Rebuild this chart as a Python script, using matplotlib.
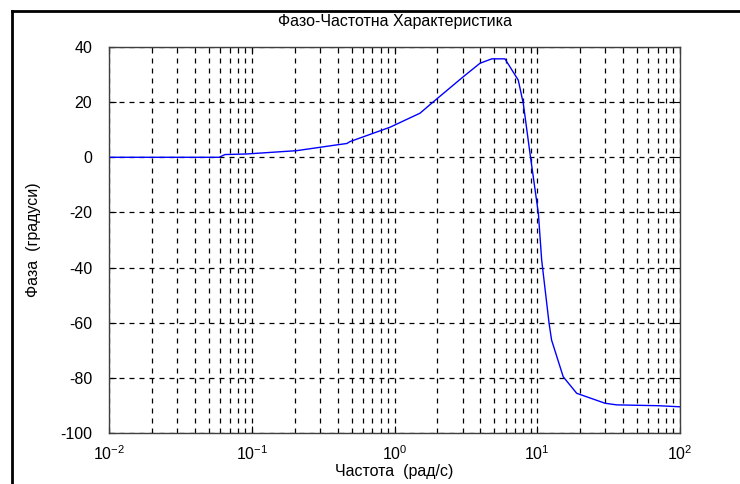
import matplotlib.pyplot as plt
from matplotlib.lines import Line2D
from matplotlib.ticker import LogLocator, FixedLocator

plt.rcParams['font.family'] = ['Liberation Sans', 'DejaVu Sans']
plt.rcParams['mathtext.fontset'] = 'custom'
plt.rcParams['mathtext.rm'] = 'Liberation Sans'
plt.rcParams['mathtext.it'] = 'Liberation Sans'
plt.rcParams['mathtext.default'] = 'regular'
plt.rcParams['axes.unicode_minus'] = False

# frequency response, phase part
freq = [0.01, 0.059, 0.065, 0.092, 0.206, 0.394, 0.464, 0.488, 0.93, 1.51,
        1.82, 3.03, 3.97, 4.8, 5.94, 7.36, 7.98, 8.89, 10.18, 10.74,
        12.1, 12.6, 15.2, 18.9, 29.8, 36.0, 70.5, 100.0]
phase = [0, 0, 1.0, 1.2, 2.4, 4.5, 5.0, 5.7, 10.9, 16.0,
         19.6, 29.2, 34.1, 35.7, 35.7, 28.0, 19.6, 1.5, -20.3, -37.3,
         -60.2, -66.3, -79.6, -85.6, -89.2, -89.8, -90.1, -90.5]

title = 'Фазо-Частотна Характеристика'
xlabel = 'Частота  (рад/с)'
ylabel = 'Фаза  (градуси)'
yticks = [-100, -80, -60, -40, -20, 0, 20, 40]

fig = plt.figure(figsize=(7.4, 4.84), dpi=100)
ax = fig.add_axes([109 / 740, 51 / 484, 571 / 740, 386 / 484])

ax.semilogx(freq, phase, color='#0000ff', linewidth=1.0)

ax.set_xlim(1e-2, 1e2)
ax.set_ylim(-100, 40)
ax.yaxis.set_major_locator(FixedLocator(yticks))
ax.xaxis.set_major_locator(LogLocator(base=10, numticks=10))
ax.xaxis.set_minor_locator(LogLocator(base=10, subs=range(2, 10), numticks=50))

grid_style = dict(color='black', linestyle=(0, (4, 4)), linewidth=0.9)
ax.grid(True, which='major', axis='both', **grid_style)
ax.grid(True, which='minor', axis='x', **grid_style)

ax.tick_params(which='both', direction='in', top=True, right=True,
               labelsize=11.5, colors='black', pad=8)
ax.tick_params(which='major', length=5)
ax.tick_params(which='minor', length=3)
ax.tick_params(axis='y', pad=12)
for s in ax.spines.values():
    s.set_color('#404040')
    s.set_linewidth(1.0)

ax.set_title(title, fontsize=11.5, pad=15)
ax.set_xlabel(xlabel, fontsize=11.5, labelpad=1)
ax.set_ylabel(ylabel, fontsize=11.5, labelpad=14)

# outer frame around the figure window
fig.add_artist(Line2D([12 / 740, 1.0], [1 - 11 / 484, 1 - 11 / 484],
                      transform=fig.transFigure, color='black', linewidth=2))
fig.add_artist(Line2D([12 / 740, 12 / 740], [0.0, 1 - 11 / 484],
                      transform=fig.transFigure, color='black', linewidth=2))

fig.savefig('out.png', dpi=100)
